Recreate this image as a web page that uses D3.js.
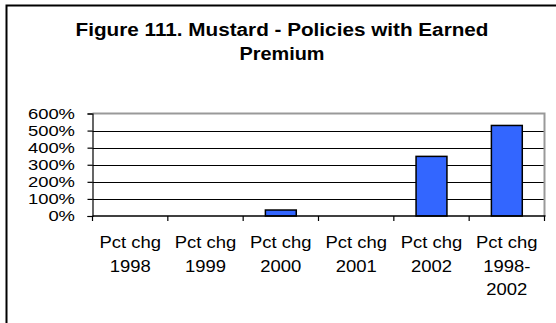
<!DOCTYPE html>
<html>
<head>
<meta charset="utf-8">
<script src="https://cdn.jsdelivr.net/npm/d3@7"></script>
<style>
  html, body { margin: 0; padding: 0; background: #fff; }
  svg { display: block; }
  text { font-family: "Liberation Sans", Arial, sans-serif; fill: #000; }
</style>
</head>
<body>
<svg id="chart" width="556" height="323"></svg>
<script>
// Percent change in policies with earned premium, Mustard
const titleLines = ["Figure 111. Mustard - Policies with Earned", "Premium"];
const categories = [
  ["Pct chg", "1998"],
  ["Pct chg", "1999"],
  ["Pct chg", "2000"],
  ["Pct chg", "2001"],
  ["Pct chg", "2002"],
  ["Pct chg", "1998-", "2002"]
];
const values = [0, 0, 35, 0, 349, 530];
const yTicks = [0, 100, 200, 300, 400, 500, 600];

const svg = d3.select("#chart");
const W = 556, H = 323;
const plot = { left: 92.5, right: 544.5, top: 113.5, bottom: 216 };

// Outer chart frame (runs off the right and bottom edges)
svg.append("rect")
  .attr("x", 6.5).attr("y", 5.5)
  .attr("width", W + 10).attr("height", H + 10)
  .attr("fill", "#fff").attr("stroke", "#000").attr("stroke-width", 2);

// Title
const titleWidths = [413, 85];
svg.append("g").selectAll("text").data(titleLines).join("text")
  .attr("x", 282).attr("y", (d, i) => 36 + i * 24)
  .attr("text-anchor", "middle")
  .attr("font-size", 17.5).attr("font-weight", "bold")
  .attr("textLength", (d, i) => titleWidths[i])
  .attr("lengthAdjust", "spacingAndGlyphs")
  .text(d => d);

const x = d3.scaleBand()
  .domain(d3.range(categories.length))
  .range([plot.left, plot.right])
  .padding(0);

const y = d3.scaleLinear()
  .domain([0, 600])
  .range([plot.bottom, plot.top]);

// Horizontal gridlines
svg.append("g").selectAll("line").data(yTicks.filter(t => t > 0 && t < 600)).join("line")
  .attr("x1", plot.left).attr("x2", plot.right)
  .attr("y1", d => Math.round(y(d)) + 0.5).attr("y2", d => Math.round(y(d)) + 0.5)
  .attr("stroke", "#000").attr("stroke-width", 1);

// Plot border: grey top and right edges
svg.append("path")
  .attr("d", `M${plot.left},${plot.top}H${plot.right}V${plot.bottom}`)
  .attr("fill", "none").attr("stroke", "#999").attr("stroke-width", 2);

// Bars (zero values draw nothing)
const barFrac = 0.41;
const barData = values.map((v, i) => ({ v, i })).filter(d => d.v > 0);
svg.append("g").selectAll("rect").data(barData).join("rect")
  .attr("x", d => x(d.i) + x.bandwidth() * (1 - barFrac) / 2)
  .attr("width", x.bandwidth() * barFrac)
  .attr("y", d => y(d.v))
  .attr("height", d => y(0) - y(d.v))
  .attr("fill", "#3366ff")
  .attr("stroke", "#000").attr("stroke-width", 1.5);

// Y axis
const yAxis = svg.append("g")
  .attr("transform", `translate(${plot.left},0)`)
  .call(d3.axisLeft(y).tickValues(yTicks).tickSize(5).tickFormat(d => d + "%"));
yAxis.selectAll("path, line").attr("stroke", "#000").attr("stroke-width", 1.2);
yAxis.selectAll("text").remove();

// Y tick labels, horizontally widened
const yLab = svg.append("g");
yTicks.forEach(t => {
  yLab.append("g")
    .attr("transform", `translate(75,${y(t) + 5}) scale(1.27,1)`)
    .append("text").attr("text-anchor", "end")
    .attr("font-size", 14.5).text(t + "%");
});

// X axis with ticks at category boundaries
svg.append("line")
  .attr("x1", plot.left).attr("x2", plot.right + 1)
  .attr("y1", plot.bottom).attr("y2", plot.bottom)
  .attr("stroke", "#000").attr("stroke-width", 1.5);
svg.append("g").selectAll("line").data(d3.range(categories.length + 1)).join("line")
  .attr("x1", i => i < categories.length ? x(i) : plot.right)
  .attr("x2", i => i < categories.length ? x(i) : plot.right)
  .attr("y1", plot.bottom).attr("y2", plot.bottom + 5)
  .attr("stroke", "#000").attr("stroke-width", 1.2);

// Category labels
const catG = svg.append("g");
categories.forEach((lines, i) => {
  const cx = x(i) + x.bandwidth() / 2;
  lines.forEach((s, j) => {
    catG.append("g")
      .attr("transform", `translate(${cx},${248 + j * 23.5}) scale(1.12,1)`)
      .append("text")
      .attr("text-anchor", "middle")
      .attr("font-size", 16.5)
      .text(s);
  });
});
</script>
</body>
</html>
